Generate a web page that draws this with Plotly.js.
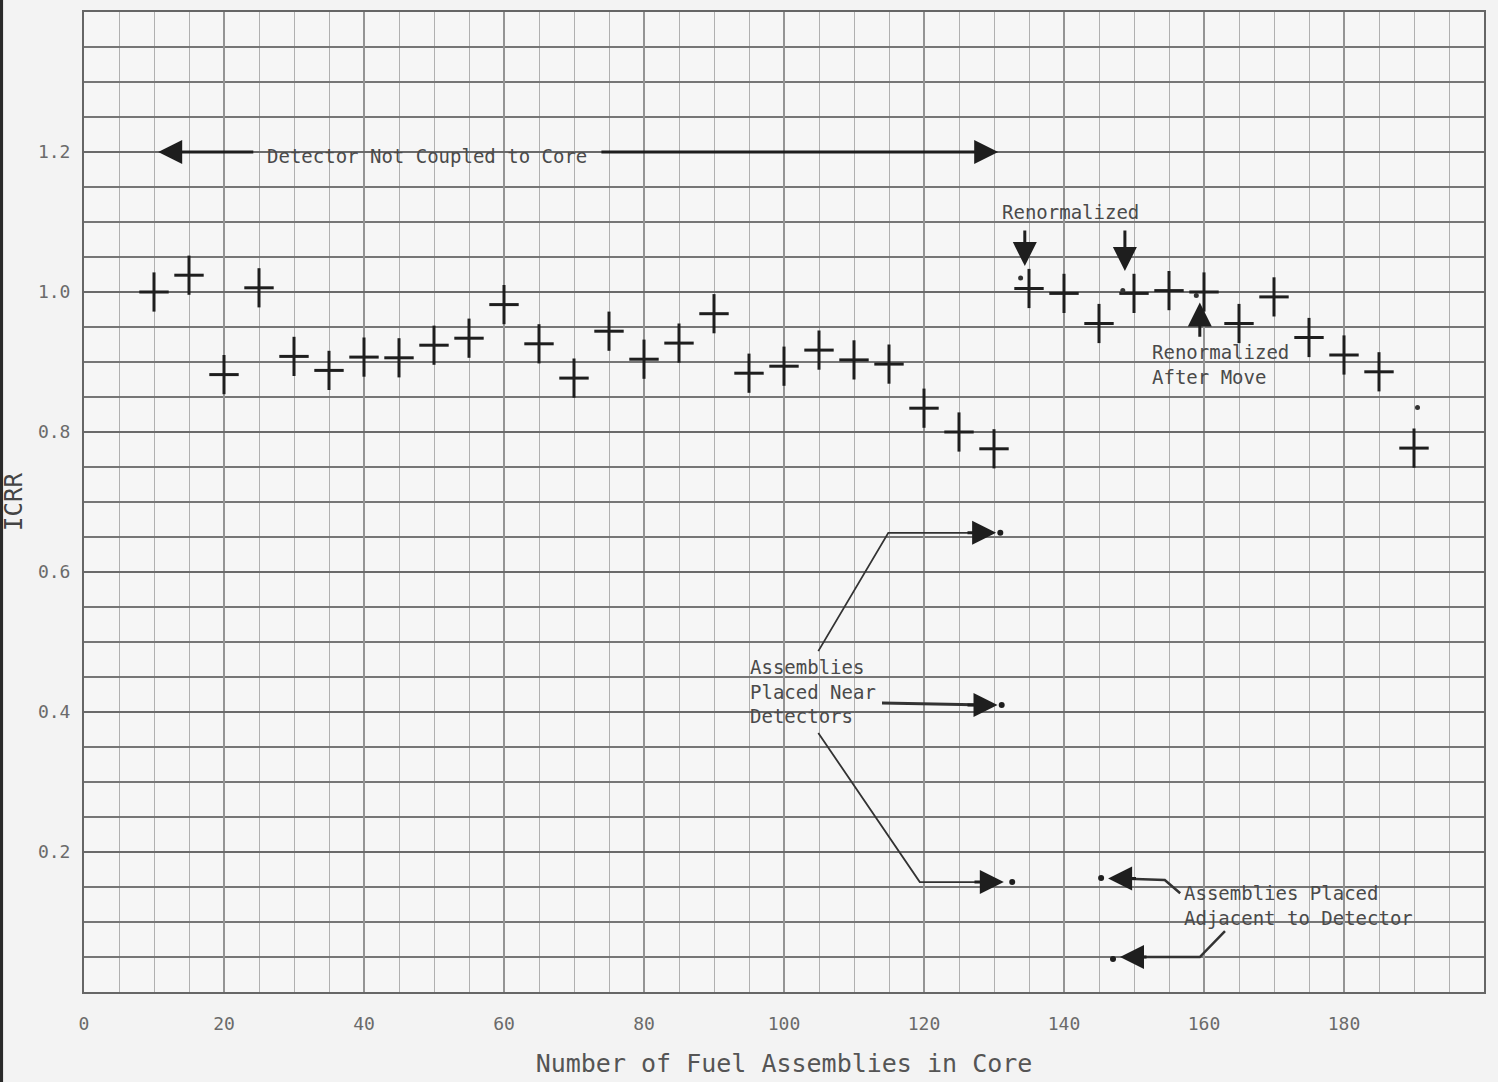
<!DOCTYPE html>
<html>
<head>
<meta charset="utf-8">
<script src="https://cdn.plot.ly/plotly-3.0.1.min.js"></script>
<style>
html,body{margin:0;padding:0;background:#f3f3f3;}
#chart{width:1498px;height:1082px;}
</style>
</head>
<body>
<div id="chart"></div>
<script>
// ---- data ----
const assemblies = [10,15,20,25,30,35,40,45,50,55,60,65,70,75,80,85,90,95,100,105,110,115,120,125,130,
                    135,140,145,150,155,160,165,170,175,180,185,190];
const icrr = [1.000,1.024,0.882,1.006,0.908,0.888,0.907,0.906,0.924,0.934,0.982,0.926,0.877,0.944,0.904,0.927,0.969,0.884,0.894,0.917,0.903,0.897,0.834,0.800,0.776,
              1.005,0.998,0.955,0.998,1.002,1.000,0.955,0.993,0.935,0.910,0.886,0.777];

// single points drawn as small dots (assemblies placed near / adjacent to detectors)
const nearDotX = [130.9,131.1,132.6,145.3,147.0];
const nearDotY = [0.656,0.410,0.157,0.163,0.047];
// small dots beside renormalized points
const extraDotX = [133.8,148.4,158.9,190.5];
const extraDotY = [1.020,1.002,0.995,0.835];

const xTickVals = [0,20,40,60,80,100,120,140,160,180];
const xTickText = ['0','20','40','60','80','100','120','140','160','180'];
const yTickVals = [0.2,0.4,0.6,0.8,1.0,1.2];
const yTickText = ['0.2','0.4','0.6','0.8','1.0','1.2'];

const xTitle = 'Number of Fuel Assemblies in Core';
const yTitle = 'ICRR';

// annotation texts
const noteNotCoupled = 'Detector Not Coupled to Core';
const noteRenorm = 'Renormalized';
const noteRenormMove = 'Renormalized<br>After Move';
const noteNear = 'Assemblies<br>Placed Near<br>Detectors';
const noteAdjacent = 'Assemblies Placed<br>Adjacent to Detector';

// leader lines (annotation geometry)
const leaderUpperX = [104.9,114.9,129.0];  const leaderUpperY = [0.487,0.656,0.656];
const leaderMidX   = [114.0,129.0];        const leaderMidY   = [0.413,0.410];
const leaderLowX   = [104.9,119.4,130.0];  const leaderLowY   = [0.370,0.157,0.157];
const leaderAdj1X  = [156.6,154.4,148.0];  const leaderAdj1Y  = [0.141,0.160,0.162];
const leaderAdj2X  = [163.0,159.4,149.5];  const leaderAdj2Y  = [0.087,0.050,0.050];

const ink = '#1e1e1e';
const textGrey = '#4a4a4a';
const mono = '"DejaVu Sans Mono", "Liberation Mono", monospace';

function leader(x, y, w) {
  return {x:x, y:y, mode:'lines', type:'scatter', line:{color:'#333', width:w},
          hoverinfo:'skip', showlegend:false};
}

const traces = [
  leader(leaderUpperX, leaderUpperY, 1.8),
  leader(leaderMidX, leaderMidY, 3),
  leader(leaderLowX, leaderLowY, 1.8),
  leader(leaderAdj1X, leaderAdj1Y, 2.5),
  leader(leaderAdj2X, leaderAdj2Y, 2.5),
  // the "+" markers: vertical stroke a bit longer than the horizontal one
  {x:assemblies, y:icrr, mode:'markers', type:'scatter', name:'ICRR',
   marker:{symbol:'line-ns', size:28, color:ink, line:{color:ink, width:3}}},
  {x:assemblies, y:icrr, mode:'markers', type:'scatter', name:'ICRR ',
   marker:{symbol:'line-ew', size:21, color:ink, line:{color:ink, width:3}}},
  {x:nearDotX, y:nearDotY, mode:'markers', type:'scatter', name:'near',
   marker:{symbol:'circle', size:6, color:ink}},
  {x:extraDotX, y:extraDotY, mode:'markers', type:'scatter', name:'extra',
   marker:{symbol:'circle', size:5, color:'#333'}}
];

function arrow(tx, ty, axv, ayv) {
  return {x:tx, y:ty, ax:axv, ay:ayv, xref:'x', yref:'y', axref:'x', ayref:'y',
          text:'', showarrow:true, arrowhead:2, arrowsize:1.6, arrowwidth:3, arrowcolor:ink};
}
function note(txt, x, y, yanchor) {
  return {x:x, y:y, xref:'x', yref:'y', text:txt, showarrow:false, xanchor:'left',
          yanchor:yanchor||'middle', align:'left', font:{family:mono, size:19, color:textGrey}};
}

const annotations = [
  // detector not coupled
  arrow(10.6, 1.2, 24.4, 1.2),
  arrow(130.6, 1.2, 73.7, 1.2),
  note(noteNotCoupled, 25.8, 1.195),
  // renormalized
  note(noteRenorm, 130.9, 1.115),
  arrow(134.4, 1.037, 134.4, 1.09),
  arrow(148.7, 1.030, 148.7, 1.09),
  // renormalized after move
  note(noteRenormMove, 152.3, 0.896),
  arrow(159.4, 0.985, 159.4, 0.934),
  // near detectors
  note(noteNear, 94.9, 0.43),
  arrow(130.3, 0.656, 126.0, 0.656),
  arrow(130.5, 0.410, 126.0, 0.410),
  arrow(131.4, 0.157, 127.0, 0.157),
  // adjacent
  note(noteAdjacent, 156.9, 0.123),
  arrow(146.3, 0.162, 150.5, 0.162),
  arrow(148.0, 0.050, 152.0, 0.050)
];

const layout = {
  width:1498, height:1082,
  paper_bgcolor:'#f3f3f3', plot_bgcolor:'#f6f6f6',
  margin:{l:84, r:14, t:12, b:90},
  showlegend:false,
  font:{family:mono, color:'#555'},
  xaxis:{
    range:[0,200], tickmode:'array', tickvals:xTickVals, ticktext:xTickText,
    showgrid:true, gridcolor:'#949494', gridwidth:1.2,
    minor:{tickmode:'linear', tick0:0, dtick:5, showgrid:true, gridcolor:'#b0b0b0', gridwidth:1, ticks:''},
    zeroline:false, showline:true, linecolor:'#666', linewidth:2, mirror:true,
    ticks:'', ticklabelstandoff:14, tickfont:{family:mono, size:18, color:'#6a6a6a'},
    title:{text:xTitle, font:{family:mono, size:25, color:'#555'}, standoff:22}
  },
  yaxis:{
    range:[0,1.4], tickmode:'array', tickvals:yTickVals, ticktext:yTickText,
    showgrid:true, gridcolor:'#6a6a6a', gridwidth:1.7,
    minor:{tickmode:'linear', tick0:0, dtick:0.05, showgrid:true, gridcolor:'#767676', gridwidth:1.6, ticks:''},
    zeroline:false, showline:true, linecolor:'#666', linewidth:2, mirror:true,
    ticks:'', ticklabelstandoff:8, tickfont:{family:mono, size:18, color:'#6a6a6a'},
    title:{text:yTitle, font:{family:mono, size:24, color:'#444'}, standoff:20}
  },
  annotations:annotations,
  shapes:[
    {type:'rect', xref:'paper', yref:'paper', x0:-0.0600, x1:-0.0578, y0:-0.1, y1:1.02,
     fillcolor:'#2a2a2a', line:{width:0}, layer:'above'}
  ]
};

Plotly.newPlot('chart', traces, layout, {displayModeBar:false, staticPlot:true});
</script>
</body>
</html>
